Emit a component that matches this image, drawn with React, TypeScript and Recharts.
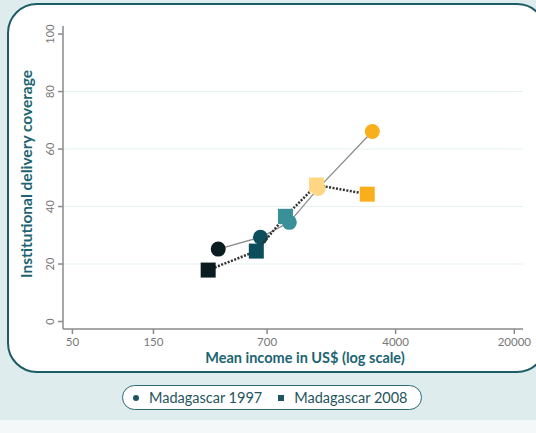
import { ScatterChart, Scatter, XAxis, YAxis, ReferenceLine } from 'recharts'

// mean income (US$) and institutional delivery coverage (%), by wealth quintile
const INCOME_1997 = [361, 640, 947, 1400, 2916]
const COVER_1997 = [25.2, 29.3, 34.5, 46.3, 66.1]
const INCOME_2008 = [315, 605, 898, 1370, 2723]
const COVER_2008 = [17.9, 24.5, 36.6, 47.5, 44.3]
const QUINTILE_COLORS = ['#0b1c20', '#0c4e5b', '#3a9098', '#fdd783', '#f9ae1b']

const X_TICKS = [50, 150, 700, 4000, 20000]
const Y_TICKS = [0, 20, 40, 60, 80, 100]
const GRID_VALUES = [20, 40, 60, 80]

const data1997 = INCOME_1997.map((x, i) => ({ x, y: COVER_1997[i], color: QUINTILE_COLORS[i] }))
const data2008 = INCOME_2008.map((x, i) => ({ x, y: COVER_2008[i], color: QUINTILE_COLORS[i] }))

const FONT = 'Lato, "Open Sans", sans-serif'
const TITLE_COLOR = '#1c6472'

function Dot(props: any) {
  const { cx, cy, payload } = props
  return <circle cx={cx} cy={cy} r={7.5} fill={payload.color} />
}

function Square(props: any) {
  const { cx, cy, payload } = props
  return <rect x={cx - 7.5} y={cy - 7.5} width={15} height={15} fill={payload.color} />
}

function YTick({ x, y, payload }: any) {
  return (
    <text x={x - 2} y={y} transform={`rotate(-90 ${x - 2} ${y})`} textAnchor="middle"
      fontSize={11} fill="#777" fontFamily={FONT}>
      {payload.value}
    </text>
  )
}

function XTick({ x, y, payload }: any) {
  return (
    <text x={x} y={y + 10} textAnchor="middle" fontSize={11.5} fill="#777" fontFamily={FONT}>
      {payload.value}
    </text>
  )
}

export default function App() {
  return (
    <div style={{ position: 'fixed', left: 0, top: 0, width: 536, height: 433, background: '#f4f8f8', overflow: 'hidden' }}>
      <div style={{ position: 'absolute', left: 0, top: 0, width: 536, height: 420, background: '#deecee' }} />
      <div style={{
        position: 'absolute', left: 7, top: 3, width: 540, height: 370,
        background: '#fff', border: '2px solid #1d5b65', borderRadius: 30, boxSizing: 'border-box',
      }} />
      <div style={{ position: 'absolute', left: 0, top: 0 }}>
        <ScatterChart width={536} height={433} margin={{ top: 26, right: 13, bottom: 74, left: 23 }}>
          {GRID_VALUES.map(v => (
            <ReferenceLine key={v} y={v} stroke="#e6f1f2" strokeWidth={1} />
          ))}
          <XAxis
            dataKey="x" type="number" scale="log" domain={[44, 22500]} ticks={X_TICKS}
            allowDataOverflow height={30} stroke="#8a8a8a" strokeWidth={1.5}
            tickSize={5} tick={<XTick />}
            label={{
              content: () => (
                <text x={305} y={363} textAnchor="middle" fontSize={14.5} fontWeight={700}
                  fill={TITLE_COLOR} fontFamily={FONT}>
                  Mean income in US$ (log scale)
                </text>
              ),
            }}
          />
          <YAxis
            dataKey="y" type="number" domain={[-2.6, 102.8]} ticks={Y_TICKS}
            allowDataOverflow width={40} stroke="#8a8a8a" strokeWidth={1.5}
            tickSize={5} tick={<YTick />}
            label={{
              content: () => (
                <text x={32} y={174} transform="rotate(-90 32 174)" textAnchor="middle" fontSize={15.5}
                  fontWeight={700} fill={TITLE_COLOR} fontFamily={FONT}>
                  Institutional delivery coverage
                </text>
              ),
            }}
          />
          <Scatter data={data1997} line={{ stroke: '#8c8c8c', strokeWidth: 1.3 }} shape={<Dot />}
            isAnimationActive={false} />
          <Scatter data={data2008} line={{ stroke: '#333', strokeWidth: 2.5, strokeDasharray: '2 1.5' }}
            shape={<Square />} isAnimationActive={false} />
        </ScatterChart>
      </div>
      <div style={{
        position: 'absolute', left: 122, top: 385, width: 300, height: 25, boxSizing: 'border-box',
        border: '1.5px solid #2b6a74', borderRadius: 13, background: '#fff',
        display: 'flex', alignItems: 'center', fontFamily: FONT, fontSize: 14.5, color: '#1f5560',
      }}>
        <span style={{ width: 6, height: 6, borderRadius: 3, background: '#1f5560', marginLeft: 10, marginRight: 10 }} />
        <span>Madagascar 1997</span>
        <span style={{ width: 6, height: 6, background: '#1f5560', marginLeft: 16, marginRight: 10 }} />
        <span>Madagascar 2008</span>
      </div>
    </div>
  )
}
